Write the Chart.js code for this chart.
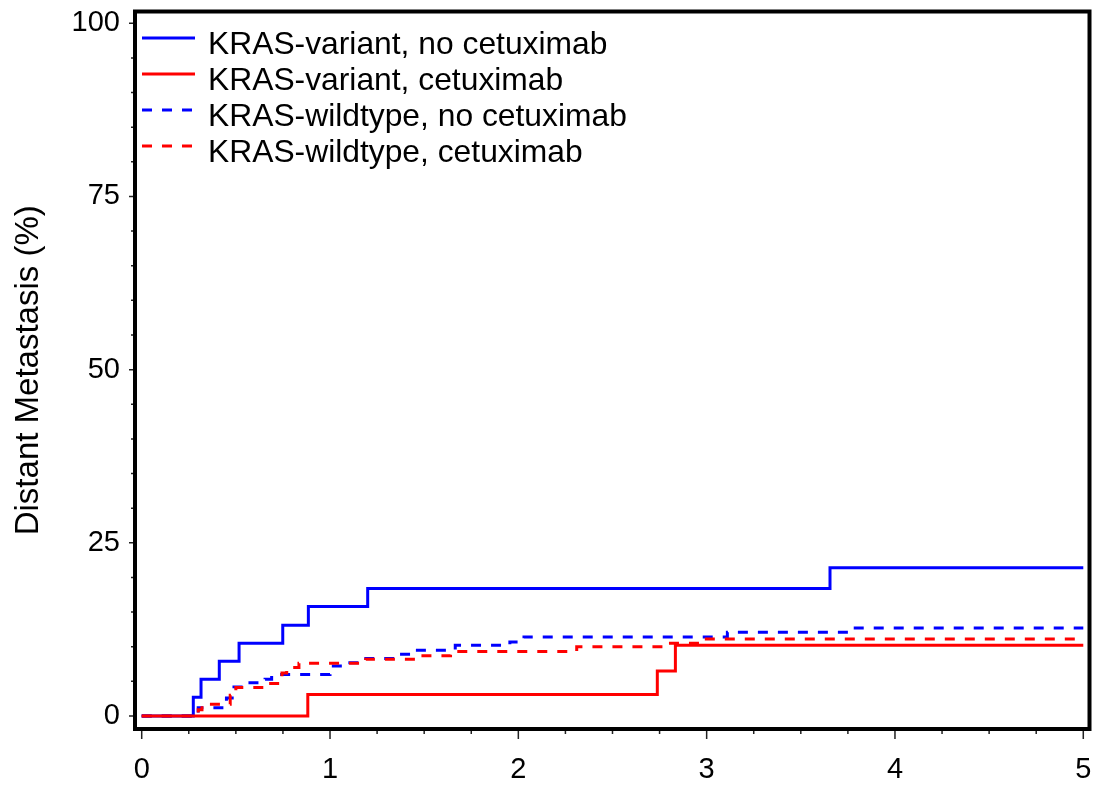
<!DOCTYPE html>
<html>
<head>
<meta charset="utf-8">
<script src="https://cdn.jsdelivr.net/npm/chart.js@4.4.1/dist/chart.umd.min.js"></script>
<style>
  html, body { margin: 0; padding: 0; background: #ffffff; overflow: hidden; }
  #c { display: block; }
</style>
</head>
<body>
<canvas id="c" width="1094" height="785" style="width:1094px;height:785px"></canvas>
<script>
// ---- data (years, cumulative incidence %) ----
const seriesLabels = [
  "KRAS-variant, no cetuximab",
  "KRAS-variant, cetuximab",
  "KRAS-wildtype, no cetuximab",
  "KRAS-wildtype, cetuximab"
];
const variantNoCetuxTime = [0, 0.274, 0.315, 0.412, 0.517, 0.749, 0.885, 1.200, 3.655, 5];
const variantNoCetuxPct  = [0, 2.7, 5.3, 7.9, 10.5, 13.1, 15.8, 18.4, 21.4, 21.4];

const variantCetuxTime = [0, 0.882, 2.738, 2.834, 5];
const variantCetuxPct  = [0, 3.1, 6.5, 10.2, 10.2];

const wildNoCetuxTime = [0, 0.30, 0.45, 0.49, 0.545, 0.655, 0.69, 1.00, 1.07, 1.19, 1.345, 1.43, 1.665, 1.955, 2.03, 3.11, 3.75, 5];
const wildNoCetuxPct  = [0, 1.2, 2.6, 4.2, 4.8, 5.3, 6.0, 7.2, 7.7, 8.3, 8.9, 9.5, 10.2, 10.7, 11.4, 12.1, 12.7, 12.7];

const wildCetuxTime = [0, 0.30, 0.32, 0.47, 0.50, 0.655, 0.745, 0.77, 0.835, 1.19, 1.47, 1.64, 2.31, 2.78, 2.965, 5];
const wildCetuxPct  = [0, 0.9, 1.7, 3.0, 4.1, 4.7, 6.2, 7.0, 7.6, 8.2, 8.7, 9.3, 10.0, 10.5, 11.1, 11.1];

const xTickLabels = ["0", "1", "2", "3", "4", "5"];
const yTickLabels = ["0", "25", "50", "75", "100"];
const yAxisTitle = "Distant Metastasis (%)";

// ---- helpers ----
const pts = (t, v) => t.map((x, i) => ({ x: x, y: v[i] }));
const FONT = "'Liberation Sans', Arial, Helvetica, sans-serif";
const BLUE = "#0000ff";
const RED = "#ff0000";

const frameAndTicks = {
  id: "frameAndTicks",
  afterDraw(chart) {
    const { ctx, chartArea: a } = chart;
    const xs = chart.scales.x, ys = chart.scales.y;
    ctx.save();
    ctx.strokeStyle = "#222";
    ctx.lineWidth = 1.5;
    ctx.beginPath();
    xs.ticks.forEach(t => {
      const px = xs.getPixelForValue(t.value);
      const major = Math.abs(t.value - Math.round(t.value)) < 1e-6;
      ctx.moveTo(px, a.bottom);
      ctx.lineTo(px, a.bottom + (major ? 10 : 5));
    });
    ys.ticks.forEach(t => {
      const py = ys.getPixelForValue(t.value);
      const major = Math.abs(t.value / 25 - Math.round(t.value / 25)) < 1e-6;
      ctx.moveTo(a.left, py);
      ctx.lineTo(a.left - (major ? 6 : 4), py);
    });
    ctx.stroke();
    ctx.strokeStyle = "#000";
    ctx.lineWidth = 4;
    ctx.strokeRect(a.left, a.top, a.right - a.left, a.bottom - a.top);
    ctx.restore();
  }
};

const insideLegend = {
  id: "insideLegend",
  afterDraw(chart) {
    const { ctx, chartArea: a } = chart;
    ctx.save();
    ctx.font = "31.8px " + FONT;
    ctx.textAlign = "left";
    ctx.textBaseline = "alphabetic";
    chart.data.datasets.forEach((ds, i) => {
      const lineY = 38 + i * 36;
      const baseY = 54 + i * 36;
      ctx.strokeStyle = ds.borderColor;
      ctx.lineWidth = 3;
      ctx.setLineDash(ds.borderDash || []);
      ctx.lineCap = "butt";
      ctx.beginPath();
      ctx.moveTo(a.left + 7, lineY);
      ctx.lineTo(a.left + 60, lineY);
      ctx.stroke();
      ctx.setLineDash([]);
      ctx.fillStyle = "#000";
      ctx.fillText(ds.label, a.left + 73, baseY);
    });
    ctx.restore();
  }
};

function noPad(s) {
  s.paddingLeft = 0; s.paddingRight = 0; s.paddingTop = 0; s.paddingBottom = 0;
}

const common = { pointRadius: 0, pointHoverRadius: 0, borderWidth: 3, stepped: "before", fill: false, borderCapStyle: "butt", tension: 0 };

new Chart(document.getElementById("c"), {
  type: "line",
  data: {
    datasets: [
      Object.assign({ label: seriesLabels[0], data: pts(variantNoCetuxTime, variantNoCetuxPct), borderColor: BLUE, order: 1 }, common),
      Object.assign({ label: seriesLabels[1], data: pts(variantCetuxTime, variantCetuxPct), borderColor: RED, order: 0 }, common),
      Object.assign({ label: seriesLabels[2], data: pts(wildNoCetuxTime, wildNoCetuxPct), borderColor: BLUE, borderDash: [10, 10], order: 3 }, common),
      Object.assign({ label: seriesLabels[3], data: pts(wildCetuxTime, wildCetuxPct), borderColor: RED, borderDash: [10, 10], order: 2 }, common)
    ]
  },
  options: {
    responsive: false,
    animation: false,
    devicePixelRatio: 1,
    layout: { padding: { left: 0, top: 11.5, right: 4.5, bottom: 0 } },
    plugins: { legend: { display: false }, tooltip: { enabled: false } },
    scales: {
      x: {
        type: "linear",
        min: -0.0356,
        max: 5.033,
        grid: { display: false, drawTicks: false },
        border: { display: false },
        afterFit(s) { s.height = 56; noPad(s); },
        ticks: {
          stepSize: 0.25,
          autoSkip: false,
          maxRotation: 0,
          includeBounds: false,
          padding: 23.6,
          color: "#000",
          font: { family: FONT, size: 29 },
          callback(v) {
            const r = Math.round(v);
            return Math.abs(v - r) < 1e-6 ? xTickLabels[r] : "";
          }
        }
      },
      y: {
        type: "linear",
        min: -1.877,
        max: 101.7,
        grid: { display: false, drawTicks: false },
        border: { display: false },
        afterFit(s) { s.width = 135; noPad(s); },
        title: {
          display: true,
          text: yAxisTitle,
          color: "#000",
          font: { family: FONT, size: 33 },
          padding: { top: 9, bottom: 0 }
        },
        ticks: {
          stepSize: 5,
          autoSkip: false,
          includeBounds: false,
          padding: 15,
          color: "#000",
          font: { family: FONT, size: 29 },
          callback(v) {
            const k = v / 25;
            return Math.abs(k - Math.round(k)) < 1e-6 ? yTickLabels[Math.round(k)] : "";
          }
        }
      }
    }
  },
  plugins: [frameAndTicks, insideLegend]
});
</script>
</body>
</html>
